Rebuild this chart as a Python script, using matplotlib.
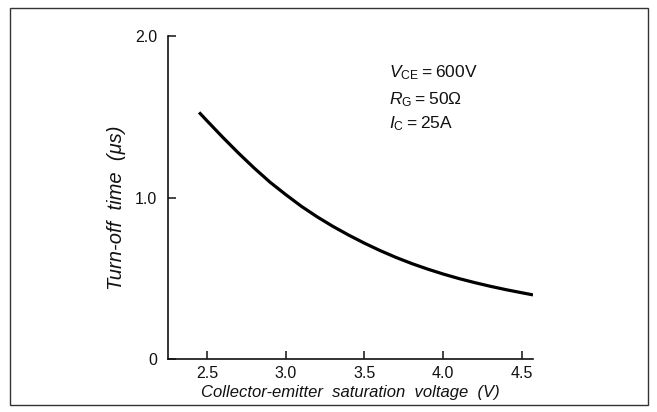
import matplotlib
matplotlib.use("Agg")
import matplotlib.pyplot as plt
from matplotlib.patches import Rectangle

# Data
vce_sat = [2.45, 2.5, 2.6, 2.7, 2.8, 2.9, 3.0, 3.1, 3.2, 3.3, 3.4, 3.5, 3.6,
           3.7, 3.8, 3.9, 4.0, 4.1, 4.2, 4.3, 4.4, 4.5, 4.57]
t_off = [1.527, 1.475, 1.373, 1.275, 1.182, 1.095, 1.018, 0.945, 0.880, 0.821,
         0.767, 0.717, 0.671, 0.629, 0.591, 0.557, 0.526, 0.498, 0.473, 0.450,
         0.429, 0.410, 0.397]

x_ticks = [2.5, 3.0, 3.5, 4.0, 4.5]
x_tick_labels = ["2.5", "3.0", "3.5", "4.0", "4.5"]
y_ticks = [0, 1.0, 2.0]
y_tick_labels = ["0", "1.0", "2.0"]

plt.rcParams['font.family'] = ['Liberation Sans', 'DejaVu Sans']
plt.rcParams['mathtext.fontset'] = 'custom'
plt.rcParams['mathtext.rm'] = 'Liberation Sans'
plt.rcParams['mathtext.it'] = 'Liberation Sans:italic'

fig = plt.figure(figsize=(6.57, 4.12), dpi=100)
fig.patch.set_facecolor("white")

# outer frame
fig.patches.append(Rectangle((10/657, 1 - 405/412), (648-10)/657, (405-8)/412,
                             transform=fig.transFigure, fill=False,
                             edgecolor="#333333", linewidth=1.0))

ax = fig.add_axes([168/657, (412-359)/412, (533-168)/657, (359-36)/412])
ax.set_facecolor("none")
ax.plot(vce_sat, t_off, color="black", linewidth=2.3, solid_capstyle="butt")

ax.set_xlim(2.2525, 4.57)
ax.set_ylim(0, 2.0)
ax.set_xticks(x_ticks)
ax.set_xticklabels(x_tick_labels)
ax.set_yticks(y_ticks)
ax.set_yticklabels(y_tick_labels)

for s in ["top", "right"]:
    ax.spines[s].set_visible(False)
for s in ["left", "bottom"]:
    ax.spines[s].set_linewidth(1.2)
    ax.spines[s].set_color("#111111")

ax.tick_params(direction="in", length=6, width=1.1, labelsize=11.5,
               colors="#111111")
ax.tick_params(axis="x", pad=5)
ax.tick_params(axis="y", pad=8)

ax.set_xlabel("Collector-emitter  saturation  voltage  (V)", fontstyle="italic",
              fontsize=12, labelpad=3, color="#111111")
ax.set_ylabel("Turn-off  time  (μs)", fontstyle="italic",
              fontsize=14.5, color="#111111")
ax.yaxis.set_label_coords(-0.115, 0.469)

ann = [
    ("$V_{\\mathrm{CE}}$\u2009=\u2009600V", 73),
    ("$R_{\\mathrm{G}}$\u2009=\u200950$\\Omega$", 100),
    ("$I_{\\mathrm{C}}$\u2009=\u200925A", 124),
]
for txt, py in ann:
    fig.text(389/657, 1 - py/412, txt, fontsize=12.5, color="#111111",
             ha="left", va="center")

fig.savefig("out.png", dpi=100, facecolor="white")
